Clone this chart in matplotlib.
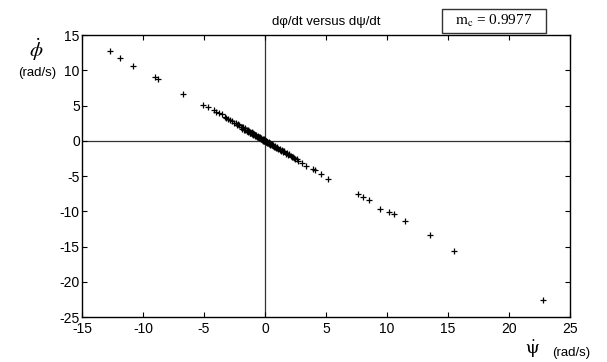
import matplotlib
matplotlib.use("Agg")
import matplotlib.pyplot as plt
from matplotlib.patches import Rectangle

plt.rcParams['font.family'] = ['Liberation Sans', 'DejaVu Sans']
plt.rcParams['mathtext.fontset'] = 'stix'
plt.rcParams['axes.unicode_minus'] = False

# outer points
psi_outer = [-12.7, -11.9, -10.8, -9.0, -8.8, -6.75, -5.1, -4.65, -4.2, -4.0, -3.75, -3.5,
             -3.3, -3.2, -3.0, -2.9, -2.7, -2.5, -2.2,
             2.7, 3.0, 3.4, 3.96, 4.1, 4.6, 5.2, 7.65, 8.0, 8.5, 9.4, 10.2, 10.6, 11.5,
             13.5, 15.5, 22.8]
phi_outer = [12.7, 11.8, 10.6, 9.1, 8.8, 6.6, 5.1, 4.77, 4.4, 4.1, 3.9, 3.8,
             3.4, 3.3, 3.1, 2.9, 2.8, 2.6, 2.4,
             -2.8, -3.2, -3.5, -4.0, -4.2, -4.7, -5.4, -7.5, -7.9, -8.4, -9.7, -10.1, -10.4, -11.4,
             -13.3, -15.6, -22.6]

# dense cluster near the origin
psi_core = [-2.4, -2.3, -2.1, -2.0, -1.9, -1.85, -1.8, -1.7, -1.65, -1.6, -1.5, -1.45, -1.4,
            -1.35, -1.3, -1.25, -1.2, -1.15, -1.1, -1.05, -1.0, -0.95, -0.9, -0.85, -0.8,
            -0.75, -0.7, -0.65, -0.6, -0.55, -0.5, -0.45, -0.4, -0.35, -0.3, -0.25, -0.2,
            -0.15, -0.1, -0.05, 0.0, 0.05, 0.1, 0.15, 0.2, 0.25, 0.3, 0.35, 0.4, 0.45, 0.5,
            0.55, 0.6, 0.65, 0.7, 0.75, 0.8, 0.9, 1.0, 1.1, 1.2, 1.3, 1.4, 1.5, 1.6, 1.7,
            1.8, 1.9, 2.0, 2.1, 2.2, 2.3, 2.4, 2.5, 2.6,
            -0.3, 0.1, -0.1, 0.2, -0.6, 0.6, -1.0, 1.0, -0.4, 0.4, 0.0, -0.2, 0.3, -0.8,
            0.8, -1.2, 1.2, -1.5, 1.5, 0.05, -0.05, 0.15]
phi_core = [2.5, 2.2, 2.2, 1.9, 2.0, 1.75, 1.9, 1.6, 1.8, 1.5, 1.6, 1.35, 1.5,
            1.2, 1.4, 1.15, 1.3, 1.05, 1.2, 0.95, 1.1, 0.85, 1.0, 0.8, 0.9,
            0.7, 0.8, 0.55, 0.7, 0.5, 0.6, 0.35, 0.5, 0.3, 0.4, 0.15, 0.3,
            0.05, 0.2, 0.0, 0.1, -0.15, 0.0, -0.25, -0.1, -0.35, -0.2, -0.45, -0.3, -0.55, -0.4,
            -0.65, -0.5, -0.75, -0.6, -0.85, -0.7, -1.0, -0.9, -1.2, -1.1, -1.4, -1.3, -1.6, -1.5, -1.8,
            -1.7, -2.0, -1.9, -2.2, -2.3, -2.3, -2.5, -2.6, -2.6,
            0.2, -0.2, 0.05, -0.2, 0.55, -0.65, 0.95, -1.05, 0.4, -0.45, -0.05, 0.15, -0.35, 0.75,
            -0.85, 1.15, -1.25, 1.45, -1.45, 0.05, 0.1, -0.1]

xticks = [-15, -10, -5, 0, 5, 10, 15, 20, 25]
yticks = [-25, -20, -15, -10, -5, 0, 5, 10, 15]

fig = plt.figure(figsize=(6.07, 3.62), dpi=100)
ax = fig.add_axes([0.135, 0.124, 0.804, 0.779])

ax.axhline(0, color='#333333', lw=0.9, zorder=1)
ax.axvline(0, color='#333333', lw=0.9, zorder=1)
ax.plot(psi_outer + psi_core, phi_outer + phi_core, '+', color='black',
        ms=4.5, mew=0.9, zorder=2)

ax.set_xlim(-15, 25)
ax.set_ylim(-25, 15)
ax.set_xticks(xticks)
ax.set_yticks(yticks)
ax.tick_params(direction='in', length=3.5, width=0.8, top=True, right=True,
               labelsize=10)
ax.tick_params(axis='x', pad=3.5)
ax.tick_params(axis='y', pad=1.5)
for s in ax.spines.values():
    s.set_linewidth(1.0)

ax.set_title('dφ/dt versus dψ/dt', fontsize=9.5, pad=7)

# y label
fig.text(0.059, 0.862, r'$\dot{\phi}$', fontsize=15, ha='center', va='center')
fig.text(0.061, 0.798, '(rad/s)', fontsize=9.5, ha='center', va='center')
# x label
fig.text(0.878, 0.035, r'$\dot{\mathrm{\psi}}$', fontsize=14, ha='center', va='center')
fig.text(0.941, 0.025, '(rad/s)', fontsize=9.5, ha='center', va='center')

# m_c box
fig.patches.append(Rectangle((0.728, 0.909), 0.171, 0.066, transform=fig.transFigure,
                             fill=False, edgecolor='#333333', lw=1.0))
fig.text(0.814, 0.942, r'$\mathrm{m_c}$ = 0.9977', fontsize=11,
         family='Liberation Serif', ha='center', va='center')

fig.savefig('out.png', dpi=100)
